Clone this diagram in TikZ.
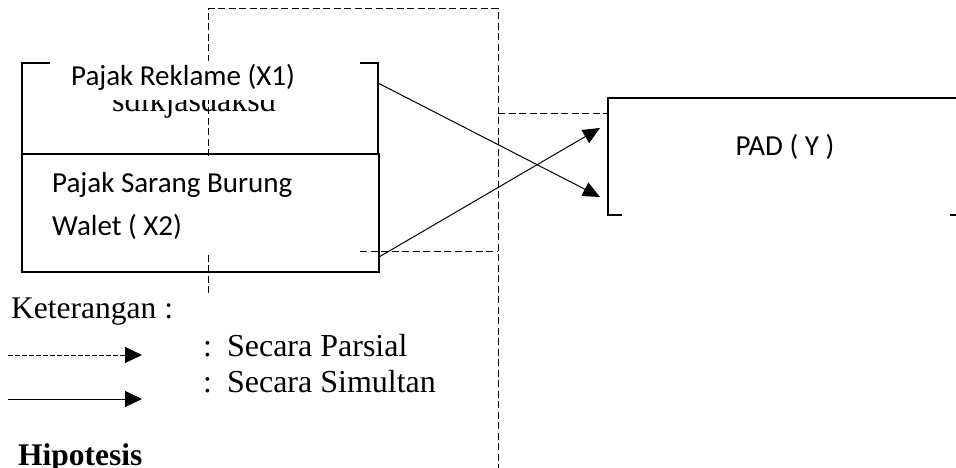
\documentclass[tikz,border=0pt]{standalone}
\usepackage{fontspec}
\setmainfont{Liberation Serif}
\newfontfamily\calfont{Carlito}
\usetikzlibrary{arrows.meta}
\begin{document}
\begin{tikzpicture}[x=1pt,y=-1pt,
 boxline/.style={draw, line width=2pt, inner sep=0pt, outer sep=0pt},
 dashline/.style={line width=1pt, dash pattern=on 7pt off 3.5pt},
 legdash/.style={line width=1pt, dash pattern=on 4.5pt off 2.5pt},
 conn/.style={line width=1pt,-{Triangle[length=17pt,width=15pt]}},
 legarrow/.style={line width=1pt,-{Triangle[length=17pt,width=16pt]}},
 caltext/.style={font=\calfont\fontsize{29pt}{35pt}\selectfont, inner sep=0pt, anchor=base},
 sertext/.style={font=\fontsize{31.5pt}{36pt}\selectfont, inner sep=0pt, anchor=base west},
]
\useasboundingbox (0,0) rectangle (956,468);
\clip (0,0) rectangle (956,468);

% dashed frame
\draw[dashline] (208,293) -- (208,9) -- (498,9) -- (498,472);
\draw[dashline] (360,251) -- (498,251);
\draw[dashline] (498,114) -- (608,114);

% boxes
\node[boxline, minimum width=356pt, minimum height=91pt] (x1box) at (200,108.5) {};
\node[boxline, minimum width=357pt, minimum height=118pt] (x2box) at (200.5,213) {};
\node[boxline, minimum width=372pt, minimum height=117pt] (padbox) at (794,156.5) {};

% hidden text partly covered
\node[sertext, font=\fontsize{32pt}{36pt}\selectfont] (hid) at (112,112) {sdlkjasdaksd};

% white text boxes
\fill[white] (50,61.2) rectangle (360,100);
\fill[white] (50,156) rectangle (360,254);
\fill[white] (622,100) rectangle (950,217);

% texts
\node[caltext] (x1) at (183,86) {Pajak Reklame (X1)};
\node[caltext, anchor=base west] (x2a) at (52,193) {Pajak Sarang Burung};
\node[caltext, anchor=base west] (x2b) at (52,235) {Walet ( X2)};
\node[caltext] (y) at (785,156) {PAD ( Y )};

% connectors
\coordinate (a1) at (378,83);
\coordinate (t1) at (600,197);
\coordinate (a2) at (379,257);
\coordinate (t2) at (600,128);
\draw[conn] (a1) -- (t1);
\draw[conn] (a2) -- (t2);

% legend
\node[sertext] (ket) at (11,318) {Keterangan :};
\node[sertext, font=\fontsize{32pt}{36pt}\selectfont] (parsial) at (203,356) {:\hspace{15pt}Secara Parsial};
\node[sertext, font=\fontsize{32pt}{36pt}\selectfont] (simultan) at (203,392) {:\hspace{15pt}Secara Simultan};
\node[sertext, font=\bfseries\fontsize{31.5pt}{36pt}\selectfont] (hip) at (18,465) {Hipotesis};
\coordinate (l1s) at (8,355);
\coordinate (l1e) at (142,355);
\coordinate (l2s) at (8,399);
\coordinate (l2e) at (142,399);
\draw[legdash, legarrow] (l1s) -- (l1e);
\draw[legarrow] (l2s) -- (l2e);
\end{tikzpicture}
\end{document}
